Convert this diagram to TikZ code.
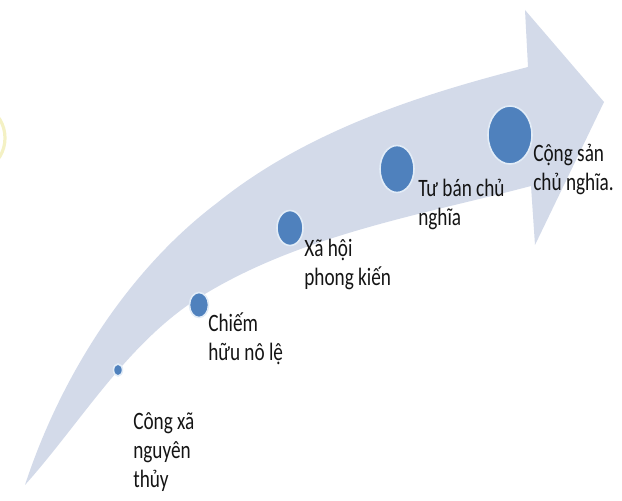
\documentclass[tikz,border=0pt]{standalone}
\usepackage{fontspec}
\setmainfont{Carlito}
\usepackage{xcolor}
\usetikzlibrary{shapes.geometric}
\definecolor{shaft}{HTML}{D3DAE9}
\definecolor{dot}{HTML}{4F81BD}
\definecolor{dotrim}{HTML}{E2ECF7}
\definecolor{glow}{HTML}{F4F1C4}
\colorlet{ink}{black!92}
\tikzstyle{stage}=[ellipse,fill=dot,draw=dotrim,line width=0.8pt,inner sep=0pt]
\tikzstyle{lbl}=[anchor=base west,align=left,inner sep=0pt,xscale=0.77,
                 text=ink,font=\fontsize{12.5}{14.5}\selectfont]

\begin{document}
\begin{tikzpicture}[x=0.5pt,y=-0.5pt]
  \useasboundingbox (0,0) rectangle (622,501);
  \clip (0,0) rectangle (622,501);

  % GLOW
  \draw[glow,line width=1.6pt]
    (5,138) arc[start angle=0,end angle=70,x radius=14pt,y radius=16pt]
    (5,138) arc[start angle=0,end angle=-70,x radius=14pt,y radius=16pt];

  \coordinate (T)   at (  25, 485 ); % TAIL
  \coordinate (UC1) at (  60, 378 );
  \coordinate (UC2) at ( 127, 271 );
  \coordinate (U1)  at ( 217, 203 );
  \coordinate (UC3) at ( 310, 128 );
  \coordinate (UC4) at ( 430,  92 );
  \coordinate (UJ)  at ( 528,  67 ); % UPPER JOINT
  \coordinate (HN)  at ( 525,  10 ); % HEAD NORTH
  \coordinate (HT)  at ( 604, 102 ); % HEAD TIP
  \coordinate (HS)  at ( 535, 245 ); % HEAD SOUTH
  \coordinate (LJ)  at ( 531, 186 ); % LOWER JOINT
  \coordinate (LC4) at ( 421, 215 );
  \coordinate (LC3) at ( 300, 235 );
  \coordinate (L1)  at ( 200, 297 );
  \coordinate (LC2) at ( 127, 343 );
  \coordinate (LC1) at (  82, 421 );

  % ARROW
  \fill[shaft]
    (T)  .. controls (UC1) and (UC2) .. (U1)
         .. controls (UC3) and (UC4) .. (UJ)
         -- (HN) -- (HT) -- (HS) -- (LJ)
         .. controls (LC4) and (LC3) .. (L1)
         .. controls (LC2) and (LC1) .. cycle;

  % STAGES
  \foreach \n/\x/\y/\w/\h in {1/118/370/4.5/6, 2/199/305/9.5/12.5,
                              3/290/228/13/17.5, 4/397/169/17/23.5,
                              5/510/135/22/29}{
    \node[stage,minimum width=\w pt,minimum height=\h pt] (s\n) at (\x,\y) {};
  }

  % LABELS (base = last line)
  \node[lbl] (t1) at (133,488) {Công xã\\nguyên\\thủy};
  \node[lbl] (t2) at (208,361) {Chiếm\\hữu nô lệ};
  \node[lbl] (t3) at (304,286) {Xã hội\\phong kiến};
  \node[lbl] (t4) at (418,226) {Tư bán chủ\\nghĩa};
  \node[lbl] (t5) at (533,191) {Cộng sản\\chủ nghĩa.};

\end{tikzpicture}
\end{document}
